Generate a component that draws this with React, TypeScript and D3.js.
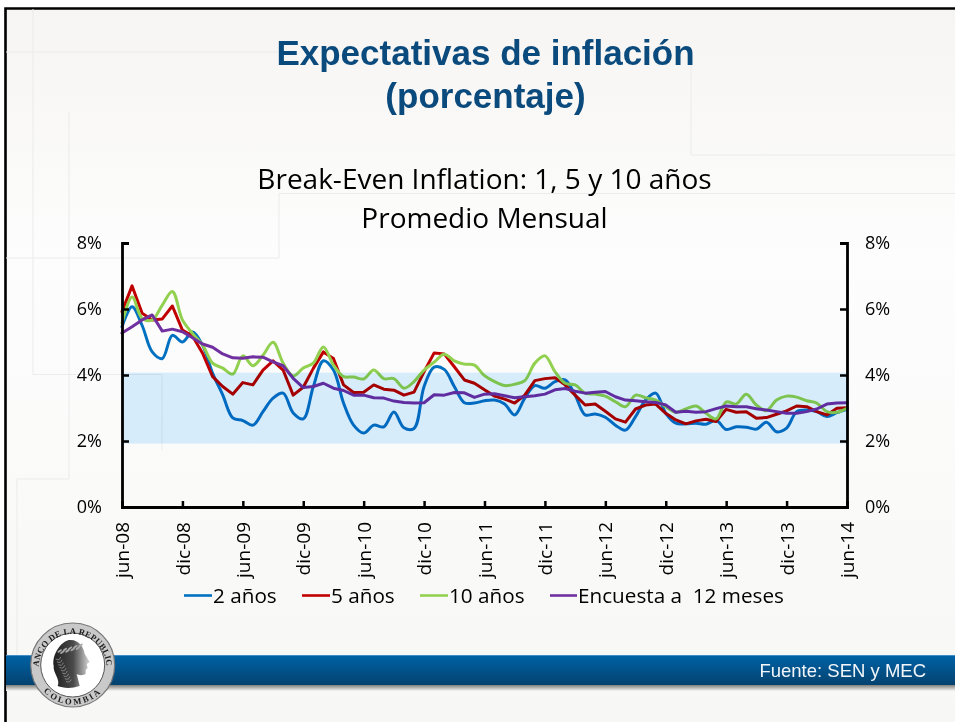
import React, { useEffect, useRef } from "react";
import * as d3 from "d3";

const months = ["jun-08", "dic-08", "jun-09", "dic-09", "jun-10", "dic-10", "jun-11", "dic-11", "jun-12", "dic-12", "jun-13", "dic-13", "jun-14"];
const yTicks = [0, 2, 4, 6, 8];

// monthly values, jun-08 to jun-14
const dos = [5.46, 6.07, 5.5, 4.7, 4.5, 5.2, 5.0, 5.3, 4.9, 4.05, 3.4, 2.7, 2.62, 2.48, 2.89, 3.3, 3.45, 2.85, 2.67, 3.65, 4.43, 4.15, 3.15, 2.48, 2.24, 2.48, 2.43, 2.88, 2.4, 2.38, 3.65, 4.24, 4.17, 3.65, 3.16, 3.15, 3.22, 3.24, 3.12, 2.79, 3.3, 3.68, 3.6, 3.8, 3.85, 3.39, 2.79, 2.82, 2.72, 2.48, 2.33, 2.74, 3.24, 3.45, 2.84, 2.54, 2.52, 2.54, 2.51, 2.63, 2.35, 2.43, 2.42, 2.36, 2.57, 2.28, 2.39, 2.89, 2.94, 2.89, 2.74, 2.86, 2.96];
const cinco = [5.92, 6.7, 5.87, 5.67, 5.7, 6.09, 5.36, 5.18, 4.66, 3.95, 3.65, 3.42, 3.77, 3.7, 4.15, 4.43, 4.15, 3.39, 3.63, 4.2, 4.7, 4.5, 3.7, 3.47, 3.48, 3.7, 3.57, 3.54, 3.39, 3.48, 4.1, 4.67, 4.64, 4.25, 3.85, 3.75, 3.55, 3.36, 3.27, 3.15, 3.39, 3.83, 3.89, 3.92, 3.7, 3.39, 3.09, 3.12, 2.9, 2.67, 2.57, 2.97, 3.09, 3.12, 2.84, 2.64, 2.52, 2.61, 2.66, 2.59, 2.96, 2.87, 2.89, 2.69, 2.71, 2.81, 2.91, 3.06, 3.04, 2.89, 2.79, 2.99, 3.01];
const diez = [5.57, 6.36, 5.72, 5.67, 6.12, 6.53, 5.67, 5.26, 4.91, 4.36, 4.21, 4.03, 4.58, 4.28, 4.6, 4.99, 4.36, 3.97, 4.21, 4.36, 4.85, 4.3, 3.95, 3.94, 3.88, 4.15, 3.89, 3.89, 3.6, 3.8, 4.15, 4.39, 4.63, 4.43, 4.33, 4.3, 3.98, 3.8, 3.68, 3.72, 3.83, 4.36, 4.58, 4.1, 3.75, 3.7, 3.45, 3.42, 3.36, 3.19, 3.04, 3.39, 3.31, 3.24, 3.04, 2.87, 2.97, 3.06, 2.84, 2.67, 3.18, 3.12, 3.42, 3.09, 2.92, 3.24, 3.36, 3.33, 3.22, 3.15, 2.89, 2.87, 2.99];
const encuesta = [5.27, 5.46, 5.67, 5.82, 5.33, 5.39, 5.31, 5.13, 4.94, 4.84, 4.64, 4.52, 4.51, 4.55, 4.54, 4.4, 4.28, 3.9, 3.62, 3.65, 3.75, 3.6, 3.53, 3.39, 3.39, 3.31, 3.3, 3.21, 3.17, 3.15, 3.16, 3.4, 3.39, 3.47, 3.46, 3.32, 3.42, 3.43, 3.37, 3.31, 3.34, 3.37, 3.42, 3.55, 3.59, 3.51, 3.45, 3.48, 3.5, 3.34, 3.24, 3.22, 3.19, 3.17, 3.09, 2.87, 2.9, 2.87, 2.89, 2.98, 3.06, 3.04, 3.04, 2.98, 2.94, 2.89, 2.84, 2.84, 2.89, 2.97, 3.12, 3.15, 3.16];
const rangoMeta = [1.92, 4.07];

const series = [
  { name: "2 años", values: dos, color: "#0070c0", smooth: true },
  { name: "5 años", values: cinco, color: "#c00000", smooth: false },
  { name: "10 años", values: diez, color: "#92d050", smooth: true },
  { name: "Encuesta a  12 meses", values: encuesta, color: "#7030a0", smooth: false },
];

const W = 955;
const H = 722;
const chartFont = "'Open Sans', sans-serif";

export default function App() {
  const svgRef = useRef<SVGSVGElement>(null);

  useEffect(() => {
    const svg = d3.select(svgRef.current);
    svg.selectAll("*").remove();

    const defs = svg.append("defs");
    const bg = defs.append("linearGradient").attr("id", "bg").attr("x2", 0).attr("y2", 1);
    bg.append("stop").attr("offset", 0).attr("stop-color", "#f6f5f3");
    bg.append("stop").attr("offset", 0.35).attr("stop-color", "#fdfdfd");
    bg.append("stop").attr("offset", 1).attr("stop-color", "#f7f7f6");
    const bar = defs.append("linearGradient").attr("id", "bar").attr("x2", 0).attr("y2", 1);
    bar.append("stop").attr("offset", 0).attr("stop-color", "#0062a6");
    bar.append("stop").attr("offset", 1).attr("stop-color", "#04426f");
    const shadow = defs.append("linearGradient").attr("id", "shadow").attr("x2", 0).attr("y2", 1);
    shadow.append("stop").attr("offset", 0).attr("stop-color", "#7f7e7a");
    shadow.append("stop").attr("offset", 1).attr("stop-color", "#f7f7f6");

    // slide
    svg.append("rect").attr("width", W).attr("height", H).attr("fill", "#fff");
    svg.append("rect").attr("x", 6).attr("y", 9).attr("width", W - 6).attr("height", H - 9).attr("fill", "url(#bg)");
    svg.append("path").attr("d", `M5.5,${H}V8.5H${W}`).attr("fill", "none").attr("stroke", "#000").attr("stroke-width", 2.6);

    // faint template lines
    const faint = [
      "M33,9V374.5H162V450", "M6,52H280", "M69,112V479H17V655", "M6,258H279V193.5H955", "M691,60V155H955",
    ];
    svg.append("g").selectAll("path").data(faint).join("path")
      .attr("d", (d) => d).attr("fill", "none").attr("stroke", "#ebebeb").attr("stroke-width", 1);

    // titles
    const title = svg.append("g").attr("text-anchor", "middle").attr("fill", "#0b4a7c")
      .style("font-family", "'Liberation Sans', sans-serif").style("font-weight", 700).style("font-size", "35px");
    title.append("text").attr("x", 485.5).attr("y", 65).text("Expectativas de inflación");
    title.append("text").attr("x", 485.5).attr("y", 108).text("(porcentaje)");

    const sub = svg.append("g").attr("text-anchor", "middle").attr("fill", "#000")
      .style("font-family", chartFont).style("font-size", "28px");
    sub.append("text").attr("x", 484.5).attr("y", 189).text("Break-Even Inflation: 1, 5 y 10 años");
    sub.append("text").attr("x", 484.5).attr("y", 228).text("Promedio Mensual");

    // chart
    const x = d3.scaleLinear().domain([0, dos.length - 1]).range([122, 847]);
    const y = d3.scaleLinear().domain([0, 8]).range([507, 243]);

    const lines = svg.append("g").attr("fill", "none").attr("stroke-linejoin", "round").attr("stroke-linecap", "round");
    series.forEach((s) => {
      const line = d3.line<number>()
        .x((_, i) => x(i))
        .y((d) => y(d))
        .curve(s.smooth ? d3.curveCatmullRom.alpha(0.5) : d3.curveLinear);
      lines.append("path").attr("d", line(s.values)).attr("stroke", s.color).attr("stroke-width", 3);
    });

    // target band sits over the lines, slightly see-through
    svg.append("rect")
      .attr("x", x(0)).attr("width", x(72) - x(0))
      .attr("y", y(rangoMeta[1])).attr("height", y(rangoMeta[0]) - y(rangoMeta[1]))
      .attr("fill", "#a8dcff").attr("fill-opacity", 0.42)
      .style("mix-blend-mode", "multiply");

    const leftAxis = d3.axisLeft(y).tickValues(yTicks).tickSize(-7).tickPadding(20).tickFormat((d) => `${d}%`);
    const rightAxis = d3.axisRight(y).tickValues(yTicks).tickSize(-7).tickPadding(18).tickFormat((d) => `${d}%`);
    const bottomAxis = d3.axisBottom(x).tickValues(d3.range(0, 73, 6)).tickSize(-6).tickPadding(8).tickFormat((_, i) => months[i]);

    const styleAxis = (g: any) => {
      g.selectAll(".domain").attr("stroke", "#000").attr("stroke-width", 2.8);
      g.selectAll(".tick line").attr("stroke", "#000").attr("stroke-width", 2.5);
      g.selectAll("text").attr("fill", "#000").style("font-family", chartFont).style("font-size", "18px");
    };
    svg.append("g").attr("transform", `translate(${x(0)},0)`).call(leftAxis).call(styleAxis);
    svg.append("g").attr("transform", `translate(${x(72)},0)`).call(rightAxis).call(styleAxis);
    const bx = svg.append("g").attr("transform", `translate(0,${y(0)})`).call(bottomAxis).call(styleAxis);
    bx.selectAll(".tick text")
      .attr("transform", "rotate(-90)")
      .attr("x", -15).attr("y", 0).attr("dy", "0.35em")
      .attr("text-anchor", "end")
      .style("font-size", "19px");

    // legend
    const legendItems = [
      { x0: 184, x1: 212, tx: 213 },
      { x0: 302, x1: 330, tx: 331 },
      { x0: 420, x1: 448, tx: 449 },
      { x0: 550, x1: 577, tx: 578 },
    ];
    const legend = svg.append("g").style("font-family", chartFont).style("font-size", "20.7px");
    series.forEach((s, i) => {
      const p = legendItems[i];
      legend.append("line").attr("x1", p.x0).attr("x2", p.x1).attr("y1", 595.5).attr("y2", 595.5)
        .attr("stroke", s.color).attr("stroke-width", 2.6);
      legend.append("text").attr("x", p.tx).attr("y", 603).style("white-space", "pre").text(s.name);
    });

    // footer bar
    svg.append("rect").attr("x", 6).attr("y", 685).attr("width", W).attr("height", 6).attr("fill", "url(#shadow)");
    svg.append("rect").attr("x", 6).attr("y", 655).attr("width", W).attr("height", 30).attr("fill", "url(#bar)");
    svg.append("rect").attr("x", 6).attr("y", 655).attr("width", W).attr("height", 1).attr("fill", "#3f8ec7");
    svg.append("text").attr("x", 926).attr("y", 677).attr("text-anchor", "end").attr("fill", "#f2f6fa")
      .style("font-family", "'Liberation Sans', sans-serif").style("font-size", "18.5px").text("Fuente: SEN y MEC");

    // seal
    const seal = svg.append("g").attr("transform", "translate(72.7,665)");
    seal.append("circle").attr("r", 42).attr("fill", "#c9c9c9").attr("stroke", "#777").attr("stroke-width", 1.2);
    seal.append("circle").attr("r", 32).attr("fill", "#fff").attr("stroke", "#555").attr("stroke-width", 1);
    defs.append("path").attr("id", "sealTop").attr("d", "M-34,3A34,34 0 1,1 34,3");
    defs.append("path").attr("id", "sealBottom").attr("d", "M-39.5,0A39.5,39.5 0 0,0 39.5,0");
    const sealText = seal.append("g").attr("fill", "#1c1c1c").style("font-family", "'Liberation Serif', serif").style("font-weight", 700);
    sealText.append("text").style("font-size", "8.6px").style("letter-spacing", "0.2px")
      .append("textPath").attr("href", "#sealTop").attr("startOffset", "50%").attr("text-anchor", "middle").text("BANCO DE LA REPUBLICA");
    sealText.append("text").style("font-size", "8.6px").style("letter-spacing", "2.2px")
      .append("textPath").attr("href", "#sealBottom").attr("startOffset", "50%").attr("text-anchor", "middle").text("COLOMBIA");
    // profile head
    const headGrad = defs.append("linearGradient").attr("id", "head").attr("x1", 0).attr("x2", 1);
    headGrad.append("stop").attr("offset", 0).attr("stop-color", "#1f1f1f");
    headGrad.append("stop").attr("offset", 0.55).attr("stop-color", "#4a4a4a");
    headGrad.append("stop").attr("offset", 1).attr("stop-color", "#d8d8d8");
    seal.append("path")
      .attr("d", "M-4,-25C7,-26 11,-17 12,-11L17,-3L14,-1L15,3L13,5L13,9C9,11 6,10 4,9L7,21C-2,24 -10,23 -15,21C-12,14 -20,8 -19,1C-21,-8 -14,-22 -4,-25Z")
      .attr("fill", "url(#head)");
    // laurel leaves over the hair
    const leaves = d3.range(0, 9);
    seal.append("g").selectAll("ellipse").data(leaves).join("ellipse")
      .attr("cx", (d) => -13 + d * 2.6)
      .attr("cy", (d) => -14 - d * 0.7 + (d % 2) * 2)
      .attr("rx", 2.6).attr("ry", 1)
      .attr("transform", (d) => `rotate(-35 ${-13 + d * 2.6} ${-14 - d * 0.7 + (d % 2) * 2})`)
      .attr("fill", "#a8a8a8");
    seal.append("g").selectAll("path").data(leaves).join("path")
      .attr("d", (d) => `M${-17 + d * 1.3},${-6 + d * 2.8}q4,2 5,-2`)
      .attr("fill", "none").attr("stroke", "#9a9a9a").attr("stroke-width", 0.8);
  }, []);

  return <svg ref={svgRef} width={W} height={H} style={{ position: "absolute", left: 0, top: 0 }} />;
}
